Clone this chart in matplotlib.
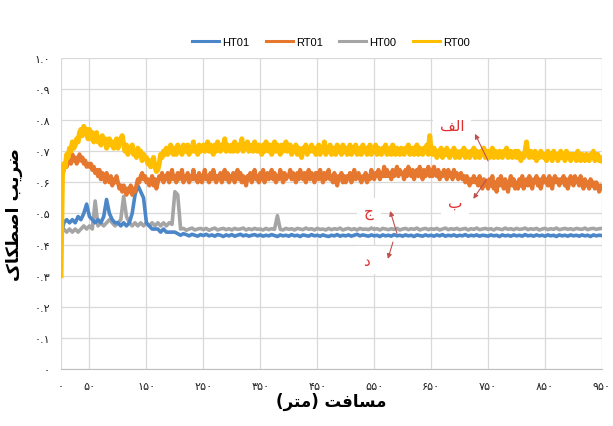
import numpy as np
import matplotlib
matplotlib.use("Agg")
from matplotlib import pyplot as plt

# distance along the track (m): RT runs logged every 2.5 m, HT runs every 5 m
dist_rt = np.arange(0, 952.5, 2.5)
dist_ht = np.arange(0, 955, 5)

rt00 = [0.30, 0.62, 0.66, 0.65, 0.69, 0.68, 0.71, 0.70, 0.73, 0.71, 0.72, 0.74, 0.73, 0.76, 0.77, 0.75, 0.78, 0.76, 0.77, 0.74,
        0.77, 0.74, 0.76, 0.73, 0.75, 0.76, 0.73, 0.74, 0.72, 0.75, 0.73, 0.74, 0.71, 0.73, 0.74, 0.72, 0.73, 0.71, 0.72, 0.74,
        0.71, 0.73, 0.74, 0.75, 0.72, 0.70, 0.72, 0.69, 0.71, 0.70, 0.72, 0.69, 0.70, 0.68, 0.71, 0.69, 0.70, 0.67, 0.69, 0.68,
        0.68, 0.66, 0.67, 0.65, 0.66, 0.68, 0.65, 0.635, 0.64, 0.66, 0.69, 0.68, 0.70, 0.69, 0.71, 0.69, 0.70, 0.72, 0.70, 0.69,
        0.71, 0.69, 0.72, 0.70, 0.71, 0.69, 0.72, 0.71, 0.70, 0.72, 0.69, 0.71, 0.70, 0.73, 0.70, 0.71, 0.69, 0.72, 0.70, 0.71,
        0.72, 0.70, 0.71, 0.73, 0.70, 0.72, 0.71, 0.69, 0.72, 0.70, 0.73, 0.71, 0.70, 0.72, 0.71, 0.74, 0.70, 0.72, 0.71, 0.70,
        0.72, 0.70, 0.73, 0.71, 0.70, 0.72, 0.71, 0.74, 0.70, 0.72, 0.71, 0.73, 0.70, 0.71, 0.72, 0.70, 0.73, 0.71, 0.70, 0.72,
        0.71, 0.69, 0.72, 0.70, 0.73, 0.71, 0.70, 0.72, 0.69, 0.71, 0.73, 0.70, 0.72, 0.71, 0.69, 0.72, 0.70, 0.71, 0.73, 0.70,
        0.71, 0.72, 0.69, 0.71, 0.70, 0.72, 0.69, 0.71, 0.70, 0.68, 0.71, 0.70, 0.72, 0.69, 0.71, 0.70, 0.72, 0.70, 0.71, 0.69,
        0.70, 0.72, 0.69, 0.71, 0.70, 0.73, 0.69, 0.71, 0.70, 0.72, 0.69, 0.71, 0.70, 0.69, 0.72, 0.70, 0.71, 0.69, 0.72, 0.70,
        0.71, 0.69, 0.70, 0.72, 0.69, 0.71, 0.70, 0.72, 0.69, 0.70, 0.71, 0.69, 0.72, 0.70, 0.71, 0.69, 0.70, 0.72, 0.69, 0.71,
        0.70, 0.72, 0.69, 0.71, 0.70, 0.69, 0.71, 0.70, 0.72, 0.69, 0.70, 0.71, 0.69, 0.72, 0.70, 0.69, 0.71, 0.70, 0.69, 0.71,
        0.70, 0.69, 0.71, 0.70, 0.72, 0.69, 0.70, 0.71, 0.69, 0.70, 0.72, 0.69, 0.71, 0.70, 0.69, 0.71, 0.70, 0.72, 0.69, 0.75,
        0.70, 0.69, 0.71, 0.70, 0.68, 0.70, 0.69, 0.71, 0.68, 0.70, 0.69, 0.71, 0.69, 0.68, 0.70, 0.69, 0.71, 0.68, 0.70, 0.69,
        0.68, 0.70, 0.69, 0.71, 0.68, 0.70, 0.69, 0.68, 0.70, 0.69, 0.71, 0.68, 0.70, 0.69, 0.68, 0.70, 0.69, 0.71, 0.68, 0.69,
        0.70, 0.68, 0.69, 0.71, 0.68, 0.70, 0.69, 0.68, 0.70, 0.69, 0.68, 0.70, 0.69, 0.71, 0.68, 0.69, 0.70, 0.68, 0.69, 0.70,
        0.68, 0.70, 0.69, 0.67, 0.69, 0.68, 0.70, 0.73, 0.69, 0.68, 0.70, 0.69, 0.68, 0.70, 0.67, 0.69, 0.68, 0.70, 0.69, 0.68,
        0.69, 0.67, 0.70, 0.68, 0.69, 0.67, 0.70, 0.68, 0.69, 0.67, 0.68, 0.70, 0.68, 0.69, 0.67, 0.70, 0.68, 0.69, 0.67, 0.69,
        0.68, 0.69, 0.67, 0.70, 0.68, 0.67, 0.69, 0.68, 0.67, 0.69, 0.68, 0.67, 0.69, 0.68, 0.70, 0.67, 0.68, 0.69, 0.67, 0.68,
        0.67]

rt01 = [0.62, 0.63, 0.64, 0.66, 0.65, 0.67, 0.68, 0.66, 0.69, 0.67, 0.68, 0.66, 0.67, 0.69, 0.67, 0.68, 0.66, 0.67, 0.65, 0.66,
        0.65, 0.66, 0.64, 0.65, 0.63, 0.64, 0.62, 0.64, 0.61, 0.63, 0.62, 0.60, 0.63, 0.61, 0.60, 0.62, 0.59, 0.61, 0.60, 0.62,
        0.60, 0.58, 0.59, 0.57, 0.59, 0.58, 0.56, 0.58, 0.57, 0.59, 0.56, 0.58, 0.57, 0.59, 0.61, 0.60, 0.62, 0.63, 0.61, 0.62,
        0.60, 0.61, 0.59, 0.60, 0.62, 0.59, 0.61, 0.58, 0.60, 0.62, 0.61, 0.63, 0.60, 0.62, 0.61, 0.63, 0.60, 0.62, 0.64, 0.61,
        0.62, 0.60, 0.63, 0.61, 0.62, 0.64, 0.60, 0.62, 0.61, 0.63, 0.60, 0.62, 0.61, 0.64, 0.61, 0.62, 0.60, 0.63, 0.61, 0.60,
        0.62, 0.64, 0.61, 0.62, 0.60, 0.63, 0.61, 0.64, 0.62, 0.60, 0.62, 0.61, 0.63, 0.60, 0.62, 0.64, 0.61, 0.63, 0.60, 0.62,
        0.61, 0.63, 0.60, 0.62, 0.64, 0.61, 0.63, 0.60, 0.62, 0.61, 0.59, 0.62, 0.61, 0.63, 0.60, 0.62, 0.64, 0.61, 0.62, 0.60,
        0.63, 0.61, 0.64, 0.60, 0.62, 0.63, 0.61, 0.62, 0.64, 0.61, 0.63, 0.60, 0.62, 0.61, 0.64, 0.62, 0.60, 0.63, 0.61, 0.62,
        0.62, 0.64, 0.61, 0.63, 0.62, 0.60, 0.63, 0.61, 0.64, 0.62, 0.61, 0.63, 0.60, 0.62, 0.64, 0.61, 0.63, 0.62, 0.60, 0.63,
        0.63, 0.61, 0.64, 0.62, 0.60, 0.63, 0.61, 0.62, 0.64, 0.61, 0.62, 0.60, 0.63, 0.61, 0.59, 0.62, 0.61, 0.63, 0.60, 0.62,
        0.60, 0.62, 0.61, 0.63, 0.60, 0.62, 0.64, 0.61, 0.62, 0.63, 0.61, 0.60, 0.62, 0.61, 0.63, 0.60, 0.62, 0.61, 0.64, 0.62,
        0.61, 0.63, 0.62, 0.64, 0.61, 0.63, 0.62, 0.65, 0.62, 0.64, 0.62, 0.63, 0.61, 0.64, 0.62, 0.63, 0.65, 0.62, 0.64, 0.63,
        0.63, 0.61, 0.64, 0.62, 0.65, 0.63, 0.62, 0.64, 0.61, 0.63, 0.64, 0.62, 0.65, 0.63, 0.61, 0.64, 0.62, 0.63, 0.65, 0.62,
        0.64, 0.62, 0.65, 0.63, 0.62, 0.64, 0.61, 0.63, 0.62, 0.64, 0.63, 0.61, 0.64, 0.62, 0.63, 0.61, 0.64, 0.62, 0.63, 0.61,
        0.62, 0.63, 0.61, 0.62, 0.60, 0.62, 0.61, 0.59, 0.61, 0.60, 0.62, 0.60, 0.61, 0.59, 0.62, 0.60, 0.58, 0.61, 0.59, 0.60,
        0.58, 0.61, 0.59, 0.62, 0.58, 0.60, 0.57, 0.61, 0.59, 0.62, 0.60, 0.58, 0.61, 0.59, 0.57, 0.60, 0.62, 0.59, 0.61, 0.58,
        0.60, 0.58, 0.61, 0.59, 0.62, 0.58, 0.60, 0.61, 0.59, 0.62, 0.60, 0.58, 0.61, 0.60, 0.62, 0.59, 0.61, 0.58, 0.60, 0.62,
        0.60, 0.61, 0.59, 0.62, 0.60, 0.58, 0.61, 0.62, 0.60, 0.61, 0.59, 0.61, 0.60, 0.62, 0.59, 0.61, 0.58, 0.60, 0.62, 0.60,
        0.59, 0.62, 0.60, 0.61, 0.59, 0.62, 0.60, 0.58, 0.61, 0.59, 0.60, 0.58, 0.61, 0.59, 0.60, 0.58, 0.60, 0.59, 0.57, 0.59,
        0.58]

ht00 = [0.44, 0.45, 0.44, 0.45, 0.44, 0.45, 0.44, 0.45, 0.46, 0.45,
        0.46, 0.45, 0.54, 0.46, 0.47, 0.46, 0.47, 0.48, 0.47, 0.46,
        0.47, 0.48, 0.555, 0.49, 0.47, 0.46, 0.47, 0.46, 0.47, 0.46,
        0.47, 0.46, 0.47, 0.46, 0.47, 0.46, 0.47, 0.46, 0.47, 0.465,
        0.57, 0.56, 0.45, 0.452, 0.446, 0.45, 0.453, 0.447, 0.45, 0.452,
        0.448, 0.452, 0.446, 0.45, 0.453, 0.447, 0.45, 0.452, 0.448, 0.451,
        0.447, 0.452, 0.449, 0.45, 0.453, 0.447, 0.451, 0.448, 0.452, 0.449,
        0.45, 0.447, 0.452, 0.448, 0.451, 0.449, 0.493, 0.449, 0.447, 0.452,
        0.449, 0.451, 0.447, 0.452, 0.45, 0.448, 0.453, 0.449, 0.451, 0.447,
        0.452, 0.449, 0.45, 0.447, 0.452, 0.448, 0.451, 0.449, 0.453, 0.447,
        0.45, 0.452, 0.448, 0.451, 0.447, 0.452, 0.449, 0.45, 0.448, 0.453,
        0.449, 0.451, 0.447, 0.452, 0.45, 0.448, 0.451, 0.449, 0.452, 0.447,
        0.45, 0.452, 0.448, 0.451, 0.449, 0.453, 0.447, 0.45, 0.452, 0.448,
        0.451, 0.449, 0.452, 0.447, 0.45, 0.453, 0.448, 0.451, 0.449, 0.452,
        0.448, 0.45, 0.452, 0.447, 0.451, 0.449, 0.453, 0.448, 0.45, 0.452,
        0.449, 0.451, 0.447, 0.452, 0.45, 0.448, 0.453, 0.449, 0.451, 0.448,
        0.452, 0.449, 0.45, 0.453, 0.448, 0.451, 0.449, 0.452, 0.447, 0.45,
        0.452, 0.448, 0.451, 0.449, 0.453, 0.448, 0.45, 0.452, 0.449, 0.451,
        0.448, 0.452, 0.45, 0.449, 0.453, 0.448, 0.451, 0.452, 0.449, 0.451,
        0.452]

ht01 = [0.43, 0.47, 0.48, 0.47, 0.48, 0.47, 0.49, 0.48, 0.50, 0.53,
        0.49, 0.48, 0.47, 0.48, 0.47, 0.49, 0.545, 0.50, 0.48, 0.47,
        0.47, 0.46, 0.47, 0.46, 0.47, 0.50, 0.56, 0.59, 0.57, 0.55,
        0.47, 0.46, 0.45, 0.45, 0.45, 0.44, 0.45, 0.44, 0.44, 0.44,
        0.44, 0.435, 0.43, 0.435, 0.432, 0.428, 0.433, 0.43, 0.427, 0.432,
        0.429, 0.433, 0.428, 0.431, 0.427, 0.432, 0.43, 0.426, 0.431, 0.428,
        0.432, 0.427, 0.43, 0.433, 0.428, 0.431, 0.427, 0.43, 0.432, 0.428,
        0.431, 0.427, 0.43, 0.428, 0.432, 0.429, 0.426, 0.431, 0.428, 0.43,
        0.427, 0.432, 0.428, 0.43, 0.426, 0.431, 0.429, 0.427, 0.432, 0.428,
        0.43, 0.427, 0.431, 0.428, 0.426, 0.43, 0.428, 0.432, 0.427, 0.43,
        0.428, 0.431, 0.427, 0.43, 0.433, 0.428, 0.431, 0.429, 0.427, 0.431,
        0.428, 0.43, 0.426, 0.431, 0.428, 0.43, 0.427, 0.432, 0.428, 0.43,
        0.427, 0.431, 0.428, 0.43, 0.426, 0.431, 0.429, 0.427, 0.431, 0.428,
        0.43, 0.427, 0.431, 0.428, 0.432, 0.427, 0.43, 0.428, 0.431, 0.427,
        0.43, 0.428, 0.432, 0.427, 0.43, 0.428, 0.431, 0.427, 0.43, 0.429,
        0.427, 0.431, 0.428, 0.43, 0.426, 0.431, 0.428, 0.43, 0.427, 0.431,
        0.428, 0.43, 0.427, 0.432, 0.428, 0.43, 0.427, 0.431, 0.428, 0.43,
        0.427, 0.431, 0.428, 0.43, 0.426, 0.431, 0.428, 0.43, 0.427, 0.431,
        0.428, 0.43, 0.427, 0.431, 0.428, 0.43, 0.426, 0.431, 0.428, 0.43,
        0.429]

series_names = ['HT01', 'RT01', 'HT00', 'RT00']
series_colors = ['#4a86c8', '#e5772e', '#a5a5a5', '#ffbf00']
series_widths = [2.6, 3.0, 2.6, 3.6]
series_z = [3, 4, 2, 5]

x_ticks = [0, 50, 150, 250, 350, 450, 550, 650, 750, 850, 950]
y_ticks = [0.0, 0.1, 0.2, 0.3, 0.4, 0.5, 0.6, 0.7, 0.8, 0.9, 1.0]

# callout labels: label position, arrow tip, arrow start next to the curve
callout_pos = [(687, 0.785), (692, 0.537), (541, 0.505), (537, 0.350)]
callout_tip = [(727, 0.756), (724, 0.547), (578, 0.508), (574, 0.354)]
callout_tail = [(750, 0.669), (748, 0.611), (590, 0.436), (583, 0.408)]

# Arabic script is written here already shaped (presentation forms) and in
# visual left-to-right order, since matplotlib does no bidi/joining itself.
Y_LABEL = ('\ufb8e\ufe8e\ufb91\ufec4\ufebb\ufe8d'   # اصطکاک
           ' '
           '\ufe90\ufbfe\ufeae\ufebf')             # ضریب
X_LABEL = ('(\ufeae\ufe98\ufee3)'                   # (متر)
           ' '
           '\ufe96\ufed3\ufe8e\ufeb4\ufee3')       # مسافت
CALLOUTS = ['\ufed2\ufedf\ufe8d',   # الف
            '\ufe8f',               # ب
            '\ufe9d',               # ج
            '\ufea9']               # د

FA_DIGITS = str.maketrans('0123456789', '\u06f0\u06f1\u06f2\u06f3\u06f4\u06f5\u06f6\u06f7\u06f8\u06f9')


def fa(s):
    return s.translate(FA_DIGITS)


plt.rcParams['font.family'] = ['DejaVu Sans']

fig = plt.figure(figsize=(6.13, 4.27), dpi=100)
ax = fig.add_axes([0.0995, 0.1335, 0.8825, 0.7285])

series = [(dist_ht, ht01), (dist_rt, rt01), (dist_ht, ht00), (dist_rt, rt00)]
handles = []
for name, color, lw, z, (xs, ys) in zip(series_names, series_colors, series_widths,
                                        series_z, series):
    h, = ax.plot(xs, ys, color=color, lw=lw, label=name, zorder=z,
                 solid_joinstyle='round')
    handles.append(h)

ax.set_xlim(0, 950)
ax.set_ylim(0, 1.0)
ax.set_xticks(x_ticks)
ax.set_xticklabels([fa(str(t)) for t in x_ticks])
ax.set_yticks(y_ticks)
ax.set_yticklabels([fa('0') if t == 0 else fa(f'{t:.1f}') for t in y_ticks])
ax.tick_params(length=0, labelsize=8, colors='#222222')
ax.tick_params(axis='x', pad=9)
ax.tick_params(axis='y', pad=8)

ax.grid(True, color='#d9d9d9', lw=0.9)
ax.set_axisbelow(True)
for side in ['top', 'right', 'left']:
    ax.spines[side].set_visible(False)
ax.spines['bottom'].set_color('#bfbfbf')

ax.set_xlabel(X_LABEL, fontsize=12, fontweight='bold', labelpad=0)
ax.set_ylabel(Y_LABEL, fontsize=12.5, fontweight='bold', labelpad=8)

for text, pos, tip, tail in zip(CALLOUTS, callout_pos, callout_tip, callout_tail):
    ax.annotate('', xy=tip, xytext=tail,
                arrowprops=dict(arrowstyle='-|>', color='#c0504d', lw=0.8,
                                mutation_scale=7, shrinkA=0, shrinkB=0),
                zorder=7)
    ax.text(pos[0], pos[1], text, color='#e03030', fontsize=11,
            ha='center', va='center', zorder=6,
            bbox=dict(facecolor='white', edgecolor='none', pad=5))

leg = fig.legend(handles, series_names, loc='center', bbox_to_anchor=(0.54, 0.9),
                 ncol=4, frameon=False, handlelength=2.4, columnspacing=1.5,
                 handletextpad=0.3,
                 prop={'family': 'Liberation Sans', 'size': 8})
for line in leg.get_lines():
    line.set_linewidth(2.2)

fig.savefig('out.png', dpi=100)
